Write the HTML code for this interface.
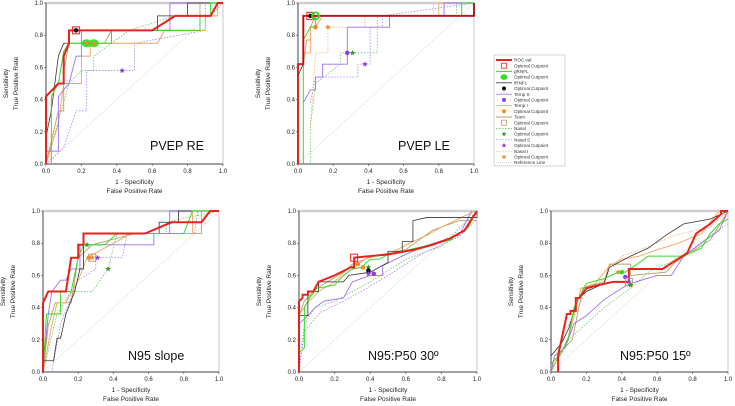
<!DOCTYPE html>
<html><head><meta charset="utf-8">
<style>
html,body{margin:0;padding:0;background:#fff;}
svg{display:block;font-family:"Liberation Sans",sans-serif;}
</style></head>
<body>
<svg id="fig" width="735" height="406" viewBox="0 0 735 406"></svg>
<script>
// ---------- data ----------
const tickLabels = ["0.0","0.2","0.4","0.6","0.8","1.0"];
const tickValues = [0,0.2,0.4,0.6,0.8,1.0];
const panelTitles = ["PVEP RE","PVEP LE","N95 slope","N95:P50 30º","N95:P50 15º"];

const p1_red=[[0,0],[0,0.42],[0.07,0.5],[0.1,0.5],[0.1,0.67],[0.13,0.75],[0.13,0.83],[0.6,0.83],[0.73,0.92],[0.93,0.92],[0.97,1],[1,1]];
const p1_green=[[0.03,0],[0.03,0.42],[0.07,0.5],[0.1,0.7],[0.13,0.75],[0.37,0.75],[0.37,0.83],[0.87,0.83],[0.87,0.92],[0.93,0.92],[0.93,1],[1,1]];
const p1_black=[[0,0.17],[0.03,0.33],[0.07,0.67],[0.1,0.75],[0.13,0.75],[0.13,0.83],[0.63,0.83],[0.63,0.92],[0.8,0.92],[0.8,1],[1,1]];
const p1_purple=[[0,0.08],[0.07,0.08],[0.07,0.42],[0.13,0.5],[0.17,0.67],[0.2,0.67],[0.2,0.83],[0.7,0.83],[0.7,1],[1,1]];
const p1_orange=[[0,0],[0.07,0.25],[0.1,0.5],[0.2,0.5],[0.2,0.67],[0.25,0.67],[0.25,0.75],[0.63,0.75],[0.67,0.83],[0.9,0.83],[0.9,0.92],[0.97,0.92],[0.97,1],[1,1]];
const p1_tan=[[0,0],[0.07,0.33],[0.1,0.33],[0.1,0.58],[0.13,0.75],[0.33,0.75],[0.37,0.83],[0.87,0.83],[0.87,1],[1,1]];
const p1_dgreen=[[0,0],[0.13,0.5],[0.2,0.58],[0.27,0.58],[0.27,0.67],[0.47,0.83],[0.73,0.92],[0.93,0.92],[1,1]];
const p1_dpurple=[[0,0],[0.1,0.1],[0.17,0.33],[0.23,0.33],[0.23,0.58],[0.5,0.58],[0.5,0.75],[0.9,0.83],[0.9,1],[1,1]];
const p1_marks=[["sq","#e8221c",0.17,0.83],["dot","#111",0.17,0.83],["ell","#33dd22",0.23,0.75],["ell","#33dd22",0.27,0.75],["star","#f08a2a",0.23,0.75],["star","#f08a2a",0.27,0.75],["star","#8a3cf0",0.43,0.58]];

const p2_red=[[0,0],[0,0.62],[0.03,0.62],[0.03,0.92],[1,0.92],[1,1]];
const p2_black=[[0,0.55],[0.03,0.62],[0.03,0.92],[1,0.92],[1,1]];
const p2_green=[[0.03,0],[0.03,0.77],[0.07,0.85],[0.1,0.85],[0.1,0.92],[0.93,0.92],[0.93,1],[1,1]];
const p2_purple=[[0.03,0.38],[0.07,0.46],[0.1,0.46],[0.1,0.54],[0.14,0.54],[0.14,0.62],[0.28,0.62],[0.28,0.85],[0.52,0.85],[0.52,0.92],[0.83,0.92],[0.83,1],[1,1]];
const p2_orange=[[0.03,0.69],[0.07,0.69],[0.07,0.85],[0.1,0.85],[0.14,0.92],[0.8,0.92],[0.8,1],[1,1]];
const p2_tan=[[0.03,0.62],[0.05,0.77],[0.07,0.77],[0.07,0.85],[0.1,0.92],[0.8,0.92]];
const p2_dgreen=[[0.07,0],[0.07,0.23],[0.1,0.5],[0.24,0.62],[0.24,0.69],[0.45,0.69],[0.45,0.92],[0.9,0.92],[0.9,1]];
const p2_dpurple=[[0.07,0.38],[0.1,0.54],[0.34,0.54],[0.34,0.62],[0.41,0.62],[0.41,0.85],[0.48,0.85],[0.48,0.92],[1,1]];
const p2_dorange=[[0.07,0.23],[0.1,0.69],[0.17,0.69],[0.17,0.85],[0.38,0.85],[0.38,0.92],[0.77,0.92],[0.77,1]];
const p2_marks=[["sq","#e8221c",0.07,0.92],["dot","#111",0.07,0.92],["circ","#33dd22",0.1,0.92],["dot","#f08a2a",0.1,0.85],["star","#f08a2a",0.17,0.85],["dot","#8a3cf0",0.28,0.69],["star","#2a9a2a",0.31,0.69],["star","#8a3cf0",0.38,0.62]];

const p3_red=[[0,0],[0,0.43],[0.03,0.5],[0.13,0.5],[0.16,0.71],[0.2,0.71],[0.2,0.79],[0.23,0.79],[0.23,0.86],[0.58,0.86],[0.73,0.93],[0.9,0.93],[0.95,1],[1,1]];
const p3_green=[[0,0],[0.02,0.36],[0.1,0.36],[0.1,0.5],[0.16,0.5],[0.2,0.71],[0.23,0.79],[0.35,0.79],[0.42,0.86],[0.8,0.86],[0.85,1],[1,1]];
const p3_black=[[0,0.07],[0.06,0.07],[0.08,0.21],[0.1,0.21],[0.13,0.36],[0.18,0.5],[0.21,0.64],[0.23,0.64],[0.23,0.86],[0.66,0.86],[0.66,0.93],[0.77,0.93],[0.77,1],[1,1]];
const p3_purple=[[0,0],[0.03,0.36],[0.05,0.5],[0.1,0.57],[0.13,0.57],[0.16,0.64],[0.21,0.64],[0.21,0.79],[0.63,0.79],[0.63,0.86],[0.72,0.86],[0.72,1],[1,1]];
const p3_orange=[[0,0],[0.05,0.29],[0.08,0.43],[0.13,0.43],[0.2,0.57],[0.25,0.71],[0.5,0.86],[0.85,0.86],[0.85,1],[1,1]];
const p3_tan=[[0,0],[0.03,0.29],[0.07,0.43],[0.16,0.43],[0.2,0.71],[0.28,0.79],[0.52,0.86],[0.9,0.86],[0.9,1],[1,1]];
const p3_dgreen=[[0,0],[0.08,0.36],[0.16,0.5],[0.28,0.5],[0.37,0.64],[0.42,0.86],[0.7,0.86],[0.7,0.93],[1,1]];
const p3_dpurple=[[0.05,0],[0.1,0.3],[0.2,0.57],[0.3,0.64],[0.3,0.71],[0.45,0.71],[0.48,0.86],[0.86,0.86],[0.88,1]];
const p3_marks=[["star","#2a9a2a",0.25,0.79],["dot","#f08a2a",0.26,0.71],["sq","#b8a06a",0.28,0.71],["star","#f08a2a",0.28,0.71],["star","#8a3cf0",0.31,0.71],["star","#2a9a2a",0.37,0.64]];

const p4_red=[[0,0],[0,0.44],[0.02,0.46],[0.02,0.48],[0.05,0.48],[0.05,0.5],[0.08,0.5],[0.11,0.56],[0.2,0.6],[0.29,0.65],[0.31,0.65],[0.31,0.71],[0.5,0.73],[0.65,0.76],[0.75,0.79],[0.85,0.83],[0.93,0.88],[0.97,0.95],[1,1]];
const p4_green=[[0,0.12],[0.03,0.15],[0.03,0.4],[0.06,0.46],[0.1,0.52],[0.2,0.54],[0.25,0.6],[0.3,0.64],[0.35,0.65],[0.4,0.7],[0.45,0.7],[0.5,0.73],[0.7,0.78],[0.85,0.82],[0.95,0.9],[1,1]];
const p4_black=[[0,0.35],[0.05,0.35],[0.05,0.5],[0.11,0.5],[0.11,0.56],[0.25,0.56],[0.28,0.6],[0.4,0.62],[0.5,0.68],[0.5,0.75],[0.58,0.75],[0.58,0.81],[0.64,0.81],[0.64,0.94],[0.72,0.96],[1,0.96],[1,1]];
const p4_purple=[[0,0.3],[0.05,0.35],[0.09,0.4],[0.14,0.44],[0.25,0.46],[0.3,0.56],[0.4,0.6],[0.47,0.6],[0.47,0.66],[0.58,0.72],[0.7,0.78],[0.9,0.85],[0.97,1]];
const p4_orange=[[0,0.35],[0.04,0.42],[0.11,0.5],[0.2,0.56],[0.28,0.65],[0.33,0.67],[0.4,0.72],[0.5,0.73],[0.62,0.8],[0.72,0.85],[0.8,0.9],[0.95,0.98],[1,1]];
const p4_tan=[[0,0.35],[0.03,0.44],[0.1,0.52],[0.25,0.62],[0.3,0.67],[0.42,0.72],[0.6,0.76],[0.75,0.88],[0.9,0.94],[1,0.94]];
const p4_dgreen=[[0,0],[0.03,0.3],[0.09,0.4],[0.2,0.44],[0.3,0.5],[0.4,0.56],[0.6,0.7],[0.8,0.78],[1,1]];
const p4_dpurple=[[0,0],[0.03,0.25],[0.12,0.37],[0.25,0.44],[0.35,0.5],[0.5,0.6],[0.7,0.74],[0.9,0.84],[1,0.95]];
const p4_marks=[["sq","#e8221c",0.31,0.71],["dot","#f08a2a",0.33,0.67],["dot","#f08a2a",0.36,0.65],["star","#2a9a2a",0.39,0.65],["dot","#111",0.39,0.63],["star","#8a3cf0",0.39,0.61],["dot","#8a3cf0",0.42,0.61]];

const p5_red=[[0.04,0],[0.04,0.1],[0.09,0.36],[0.11,0.36],[0.11,0.38],[0.14,0.38],[0.14,0.46],[0.16,0.46],[0.2,0.52],[0.27,0.54],[0.35,0.56],[0.44,0.56],[0.44,0.64],[0.63,0.64],[0.7,0.69],[0.77,0.74],[0.82,0.86],[0.9,0.92],[0.96,0.98],[0.96,1],[1,1]];
const p5_green=[[0,0.05],[0.06,0.12],[0.1,0.22],[0.13,0.4],[0.2,0.55],[0.3,0.58],[0.38,0.62],[0.42,0.62],[0.5,0.68],[0.55,0.72],[0.75,0.72],[0.85,0.77],[0.9,0.86],[0.95,0.92],[1,0.95]];
const p5_black=[[0,0.1],[0.06,0.18],[0.1,0.27],[0.15,0.45],[0.2,0.5],[0.3,0.55],[0.33,0.65],[0.45,0.72],[0.55,0.77],[0.65,0.85],[0.75,0.92],[0.9,0.95],[1,1]];
const p5_purple=[[0,0],[0.02,0.1],[0.08,0.15],[0.13,0.3],[0.2,0.35],[0.3,0.45],[0.4,0.52],[0.45,0.55],[0.6,0.6],[0.68,0.6],[0.75,0.72],[0.85,0.8],[0.95,0.88],[1,1]];
const p5_orange=[[0,0.02],[0.05,0.1],[0.1,0.22],[0.17,0.52],[0.25,0.55],[0.33,0.66],[0.4,0.7],[0.5,0.72],[0.6,0.76],[0.72,0.8],[0.85,0.86],[0.95,1]];
const p5_tan=[[0,0],[0.05,0.12],[0.12,0.2],[0.18,0.52],[0.3,0.56],[0.33,0.67],[0.45,0.67],[0.45,0.6],[0.65,0.62],[0.7,0.68],[0.8,0.75],[0.9,0.82],[1,1]];
const p5_dgreen=[[0,0],[0.1,0.2],[0.2,0.3],[0.3,0.4],[0.45,0.52],[0.55,0.62],[0.75,0.72],[0.9,0.85],[1,0.92]];
const p5_dorange=[[0,0.03],[0.1,0.3],[0.2,0.5],[0.3,0.58],[0.4,0.72],[0.55,0.78],[0.7,0.85],[0.9,0.9],[1,1]];
const p5_marks=[["star","#f08a2a",0.38,0.62],["dot","#33dd22",0.4,0.62],["dot","#8a3cf0",0.42,0.59],["sq","#b8a06a",0.44,0.56],["star","#8a3cf0",0.44,0.56],["star","#2a9a2a",0.45,0.54]];

// ---------- styles / layout ----------
const ST={red:["#e8221c",2,""],green:["#33dd22",1,""],black:["#333",0.8,""],purple:["#a070f0",0.9,""],orange:["#f5a55a",0.9,""],tan:["#b8a06a",0.9,""],
 dgreen:["#55bb55",0.7,"1.5,1.5"],dpurple:["#9a6cf0",0.7,"1.5,1.5"],dorange:["#f5a55a",0.7,"1.5,1.5"]};
const panels=[
 {x0:46,x1:223,y0:164,y1:3,tx:150,ty:150,series:{dgreen:p1_dgreen,dpurple:p1_dpurple,tan:p1_tan,orange:p1_orange,purple:p1_purple,black:p1_black,green:p1_green,red:p1_red},marks:p1_marks},
 {x0:298,x1:474,y0:164,y1:3,tx:398,ty:150,series:{dgreen:p2_dgreen,dpurple:p2_dpurple,dorange:p2_dorange,tan:p2_tan,orange:p2_orange,purple:p2_purple,green:p2_green,red:p2_red,black:p2_black},marks:p2_marks},
 {x0:43,x1:219,y0:372,y1:211,tx:128,ty:360,series:{dgreen:p3_dgreen,dpurple:p3_dpurple,tan:p3_tan,orange:p3_orange,purple:p3_purple,black:p3_black,green:p3_green,red:p3_red},marks:p3_marks},
 {x0:299,x1:477,y0:372,y1:211,tx:368,ty:360,series:{dgreen:p4_dgreen,dpurple:p4_dpurple,tan:p4_tan,orange:p4_orange,purple:p4_purple,black:p4_black,green:p4_green,red:p4_red},marks:p4_marks},
 {x0:551,x1:728,y0:372,y1:211,tx:620,ty:360,series:{dgreen:p5_dgreen,dorange:p5_dorange,tan:p5_tan,orange:p5_orange,purple:p5_purple,black:p5_black,green:p5_green,red:p5_red},marks:p5_marks}
];
const NS="http://www.w3.org/2000/svg";
const svg=document.getElementById("fig");
function mk(tag,attrs,parent){const e=document.createElementNS(NS,tag);for(const k in attrs)e.setAttribute(k,attrs[k]);(parent||svg).appendChild(e);return e;}
function starPts(cx,cy,r){let s="";for(let i=0;i<10;i++){const a=-Math.PI/2+i*Math.PI/5;const rr=i%2?r*0.45:r;s+=(cx+rr*Math.cos(a)).toFixed(2)+","+(cy+rr*Math.sin(a)).toFixed(2)+" ";}return s;}
function drawMarker(g,type,col,x,y){
 let e;
 if(type==="sq"){e=mk("rect",{x:x-3.5,y:y-3.5,width:7,height:7,fill:"none",stroke:col,"stroke-width":1},g);}
 else if(type==="dot"){e=mk("circle",{cx:x,cy:y,r:2.3,fill:col},g);}
 else if(type==="circ"){e=mk("circle",{cx:x,cy:y,r:3.5,fill:"none",stroke:col,"stroke-width":1.8},g);}
 else if(type==="ell"){e=mk("ellipse",{cx:x,cy:y,rx:5,ry:4,fill:col,opacity:0.9},g);}
 else {e=mk("polygon",{points:starPts(x,y,3),fill:col},g);}
 return e;
}
panels.forEach((p,i)=>{
 const sx=v=>p.x0+v*(p.x1-p.x0), sy=v=>p.y0+v*(p.y1-p.y0);
 const g=mk("g",{});
 
 
 // frame
 const fr=mk("rect",{x:p.x0,y:p.y1,width:p.x1-p.x0,height:p.y0-p.y1,fill:"none",stroke:"#c8c8c8","stroke-width":1},g);
 
 
 mk("line",{x1:p.x0,y1:p.y1,x2:p.x1,y2:p.y1,stroke:"#cfcfcf","stroke-width":2.5},g);
 const ax=mk("path",{d:`M${p.x0},${p.y1}V${p.y0}H${p.x1}`,fill:"none",stroke:"#444","stroke-width":1},g);
 
 
 // ticks
 tickValues.forEach((v,k)=>{
  mk("line",{x1:sx(v),y1:p.y0,x2:sx(v),y2:p.y0+2,stroke:"#444","stroke-width":0.6},g);
  mk("line",{x1:p.x0-2,y1:sy(v),x2:p.x0,y2:sy(v),stroke:"#444","stroke-width":0.6},g);
  const tx=mk("text",{x:sx(v),y:p.y0+9,"font-size":6,"text-anchor":"middle",fill:"#222"},g);
  tx.textContent=tickLabels[k];
  
  
  const ty=mk("text",{x:p.x0-3,y:sy(v)+2,"font-size":6,"text-anchor":"end",fill:"#222"},g);
  ty.textContent=tickLabels[k];
  
  
 });
 // reference line
 const rl=mk("line",{x1:sx(0),y1:sy(0),x2:sx(1),y2:sy(1),stroke:"#aaa","stroke-width":0.5,"stroke-dasharray":"1,1"},g);
 
 
 // series
 for(const key in p.series){
  const [c,w,d]=ST[key];
  const pts=p.series[key].map(q=>sx(q[0]).toFixed(2)+","+sy(q[1]).toFixed(2)).join(" ");
  const a={points:pts,fill:"none",stroke:c,"stroke-width":w,"stroke-linejoin":"miter"};
  if(d)a["stroke-dasharray"]=d;
  const pl=mk("polyline",a,g);
  
  
 }
 p.marks.forEach(m=>{
  const e=drawMarker(g,m[0],m[1],sx(m[2]),sy(m[3]));
  
  
 });
 // titles
 const t=mk("text",{x:p.tx,y:p.ty,"font-size":12.5,fill:"#111"},g);
 t.textContent=panelTitles[i];
 
 
 const cx=(p.x0+p.x1)/2;
 const xt1=mk("text",{x:cx,y:p.y0+20,"font-size":6.5,"text-anchor":"middle",fill:"#222"},g);
 xt1.textContent="1 - Specificity";
 
 
 const xt2=mk("text",{x:cx,y:p.y0+29,"font-size":6.5,"text-anchor":"middle",fill:"#222"},g);
 xt2.textContent="False Positive Rate";
 
 
 const cy=(p.y0+p.y1)/2;
 const yt1=mk("text",{x:0,y:0,"font-size":6.5,"text-anchor":"middle",fill:"#222",transform:`translate(${p.x0-38},${cy}) rotate(-90)`},g);
 yt1.textContent="Sensitivity";
 
 
 const yt2=mk("text",{x:0,y:0,"font-size":6.5,"text-anchor":"middle",fill:"#222",transform:`translate(${p.x0-28},${cy}) rotate(-90)`},g);
 yt2.textContent="True Positive Rate";
 
 
});

// ---------- legend ----------
const legendLabels=["ROC val","Optimal Cutpoint","gRNFL","Optimal Cutpoint","tRNFL","Optimal Cutpoint","Temp S","Optimal Cutpoint","Temp I","Optimal Cutpoint","Tsum","Optimal Cutpoint","Nasal","Optimal Cutpoint","Nasal S","Optimal Cutpoint","Nasal I","Optimal Cutpoint","Reference Line"];
const legendKeys=[["line","#e8221c",2,""],["sq","#e8221c"],["line","#33dd22",1,""],["ell","#33dd22"],["line","#333",0.8,""],["dot","#111"],["line","#a070f0",0.8,""],["dot","#8a3cf0"],["line","#f5a55a",0.8,""],["dot","#f08a2a"],["line","#b8a06a",1,""],["sq","#b8a06a"],["line","#55bb55",0.7,"1.5,1.5"],["star","#2a9a2a"],["line","#9a6cf0",0.7,"1.5,1.5"],["star","#8a3cf0"],["line","#f5a55a",0.7,"1.5,1.5"],["star","#f08a2a"],["line","#aaa",0.6,"1,1"]];
const lg=mk("g",{});


mk("rect",{x:494,y:55,width:71,height:111,fill:"#fff",stroke:"#bbb","stroke-width":0.6},lg);
legendLabels.forEach((lab,k)=>{
 const y=60+k*5.7;
 const key=legendKeys[k];
 const eg=mk("g",{},lg);
 
 
 if(key[0]==="line"){const a={x1:496,y1:y,x2:512,y2:y,stroke:key[1],"stroke-width":key[2]};if(key[3])a["stroke-dasharray"]=key[3];mk("line",a,eg);}
 else{
  const t=key[0];
  if(t==="sq")mk("rect",{x:501.5,y:y-2.5,width:5,height:5,fill:"none",stroke:key[1],"stroke-width":0.8},eg);
  else if(t==="ell")mk("ellipse",{cx:504,cy:y,rx:3.5,ry:2.8,fill:key[1]},eg);
  else if(t==="dot")mk("circle",{cx:504,cy:y,r:2,fill:key[1]},eg);
  else mk("polygon",{points:starPts(504,y,2.6),fill:key[1]},eg);
 }
 const tx=mk("text",{x:514,y:y+1.6,"font-size":4.6,fill:"#333"},eg);
 tx.textContent=lab;
});
</script>
</body></html>
